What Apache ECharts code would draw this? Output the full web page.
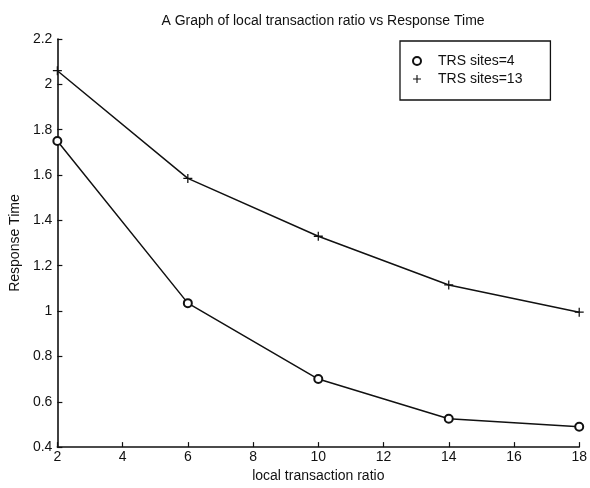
<!DOCTYPE html>
<html>
<head>
<meta charset="utf-8">
<script src="https://cdn.jsdelivr.net/npm/echarts@6/dist/echarts.min.js"></script>
<style>
html,body{margin:0;padding:0;background:#fff;}
#main{width:590px;height:488px;}
</style>
</head>
<body>
<div id="main"></div>
<script>
// local transaction ratio vs response time
var ratios = [2, 6, 10, 14, 18];
var sites4 = [1.75, 1.035, 0.70, 0.525, 0.49];
var sites13 = [2.06, 1.585, 1.33, 1.115, 0.995];
var seriesNames = ['TRS sites=4', 'TRS sites=13'];

var plusPath = 'path://M4.3,0h1.4v4.3h4.3v1.4h-4.3v4.3h-1.4v-4.3h-4.3v-1.4h4.3z';
var font = 'Liberation Sans, Arial, sans-serif';
var ink = '#111';

function pairs(xs, ys){
    var out = [];
    for(var a=0;a<xs.length;a++)out.push([xs[a], ys[a]]);
    return out;
}

var chart = echarts.init(document.getElementById('main'));
var option = {
    animation:false,
    backgroundColor:'#fff',
    title:{
        text:'A Graph of local transaction ratio vs Response Time',
        left:318,
        textAlign:'center',
        top:9,
        textStyle:{fontSize:14,fontWeight:'normal',color:ink,fontFamily:font}
    },
    legend:{
        left:400,
        top:41,
        orient:'vertical',
        backgroundColor:'#fff',
        borderColor:ink,
        borderWidth:1.3,
        borderRadius:0,
        padding:[13,28,14,12],
        itemGap:4,
        itemWidth:8,
        itemHeight:8,
        textStyle:{fontSize:14,color:ink,fontFamily:font,padding:[0,0,0,12]},
        data:[
            {name:seriesNames[0],icon:'emptyCircle'},
            {name:seriesNames[1],icon:plusPath}
        ]
    },
    grid:{left:53,right:5,top:39,bottom:34},
    xAxis:{
        type:'value',
        min:2,max:18,interval:2,
        name:'local transaction ratio',
        nameLocation:'middle',
        nameGap:19,
        nameTextStyle:{fontSize:14,color:ink,fontFamily:font},
        axisLine:{lineStyle:{color:ink,width:1.6}},
        axisTick:{inside:true,length:5,lineStyle:{color:ink,width:1.2}},
        axisLabel:{fontSize:14,color:ink,fontFamily:font,margin:3},
        splitLine:{show:false}
    },
    yAxis:{
        type:'value',
        min:0.4,max:2.2,interval:0.2,
        name:'Response Time',
        nameLocation:'middle',
        nameGap:33,
        nameTextStyle:{fontSize:14,color:ink,fontFamily:font},
        axisLine:{show:true,lineStyle:{color:ink,width:1.6}},
        axisTick:{show:true,inside:true,length:5,lineStyle:{color:ink,width:1.2}},
        axisLabel:{fontSize:14,color:ink,fontFamily:font,margin:5},
        splitLine:{show:false}
    },
    series:[
        {
            name:seriesNames[0],
            type:'line',
            data:pairs(ratios, sites4),
            symbol:'emptyCircle',
            symbolSize:8,
            showAllSymbol:true,
            lineStyle:{color:ink,width:1.5},
            itemStyle:{color:ink,borderWidth:1.4}
        },
        {
            name:seriesNames[1],
            type:'line',
            data:pairs(ratios, sites13),
            symbol:plusPath,
            symbolSize:9,
            showAllSymbol:true,
            lineStyle:{color:ink,width:1.5},
            itemStyle:{color:ink}
        }
    ]
};
chart.setOption(option,true);
</script>
</body>
</html>
